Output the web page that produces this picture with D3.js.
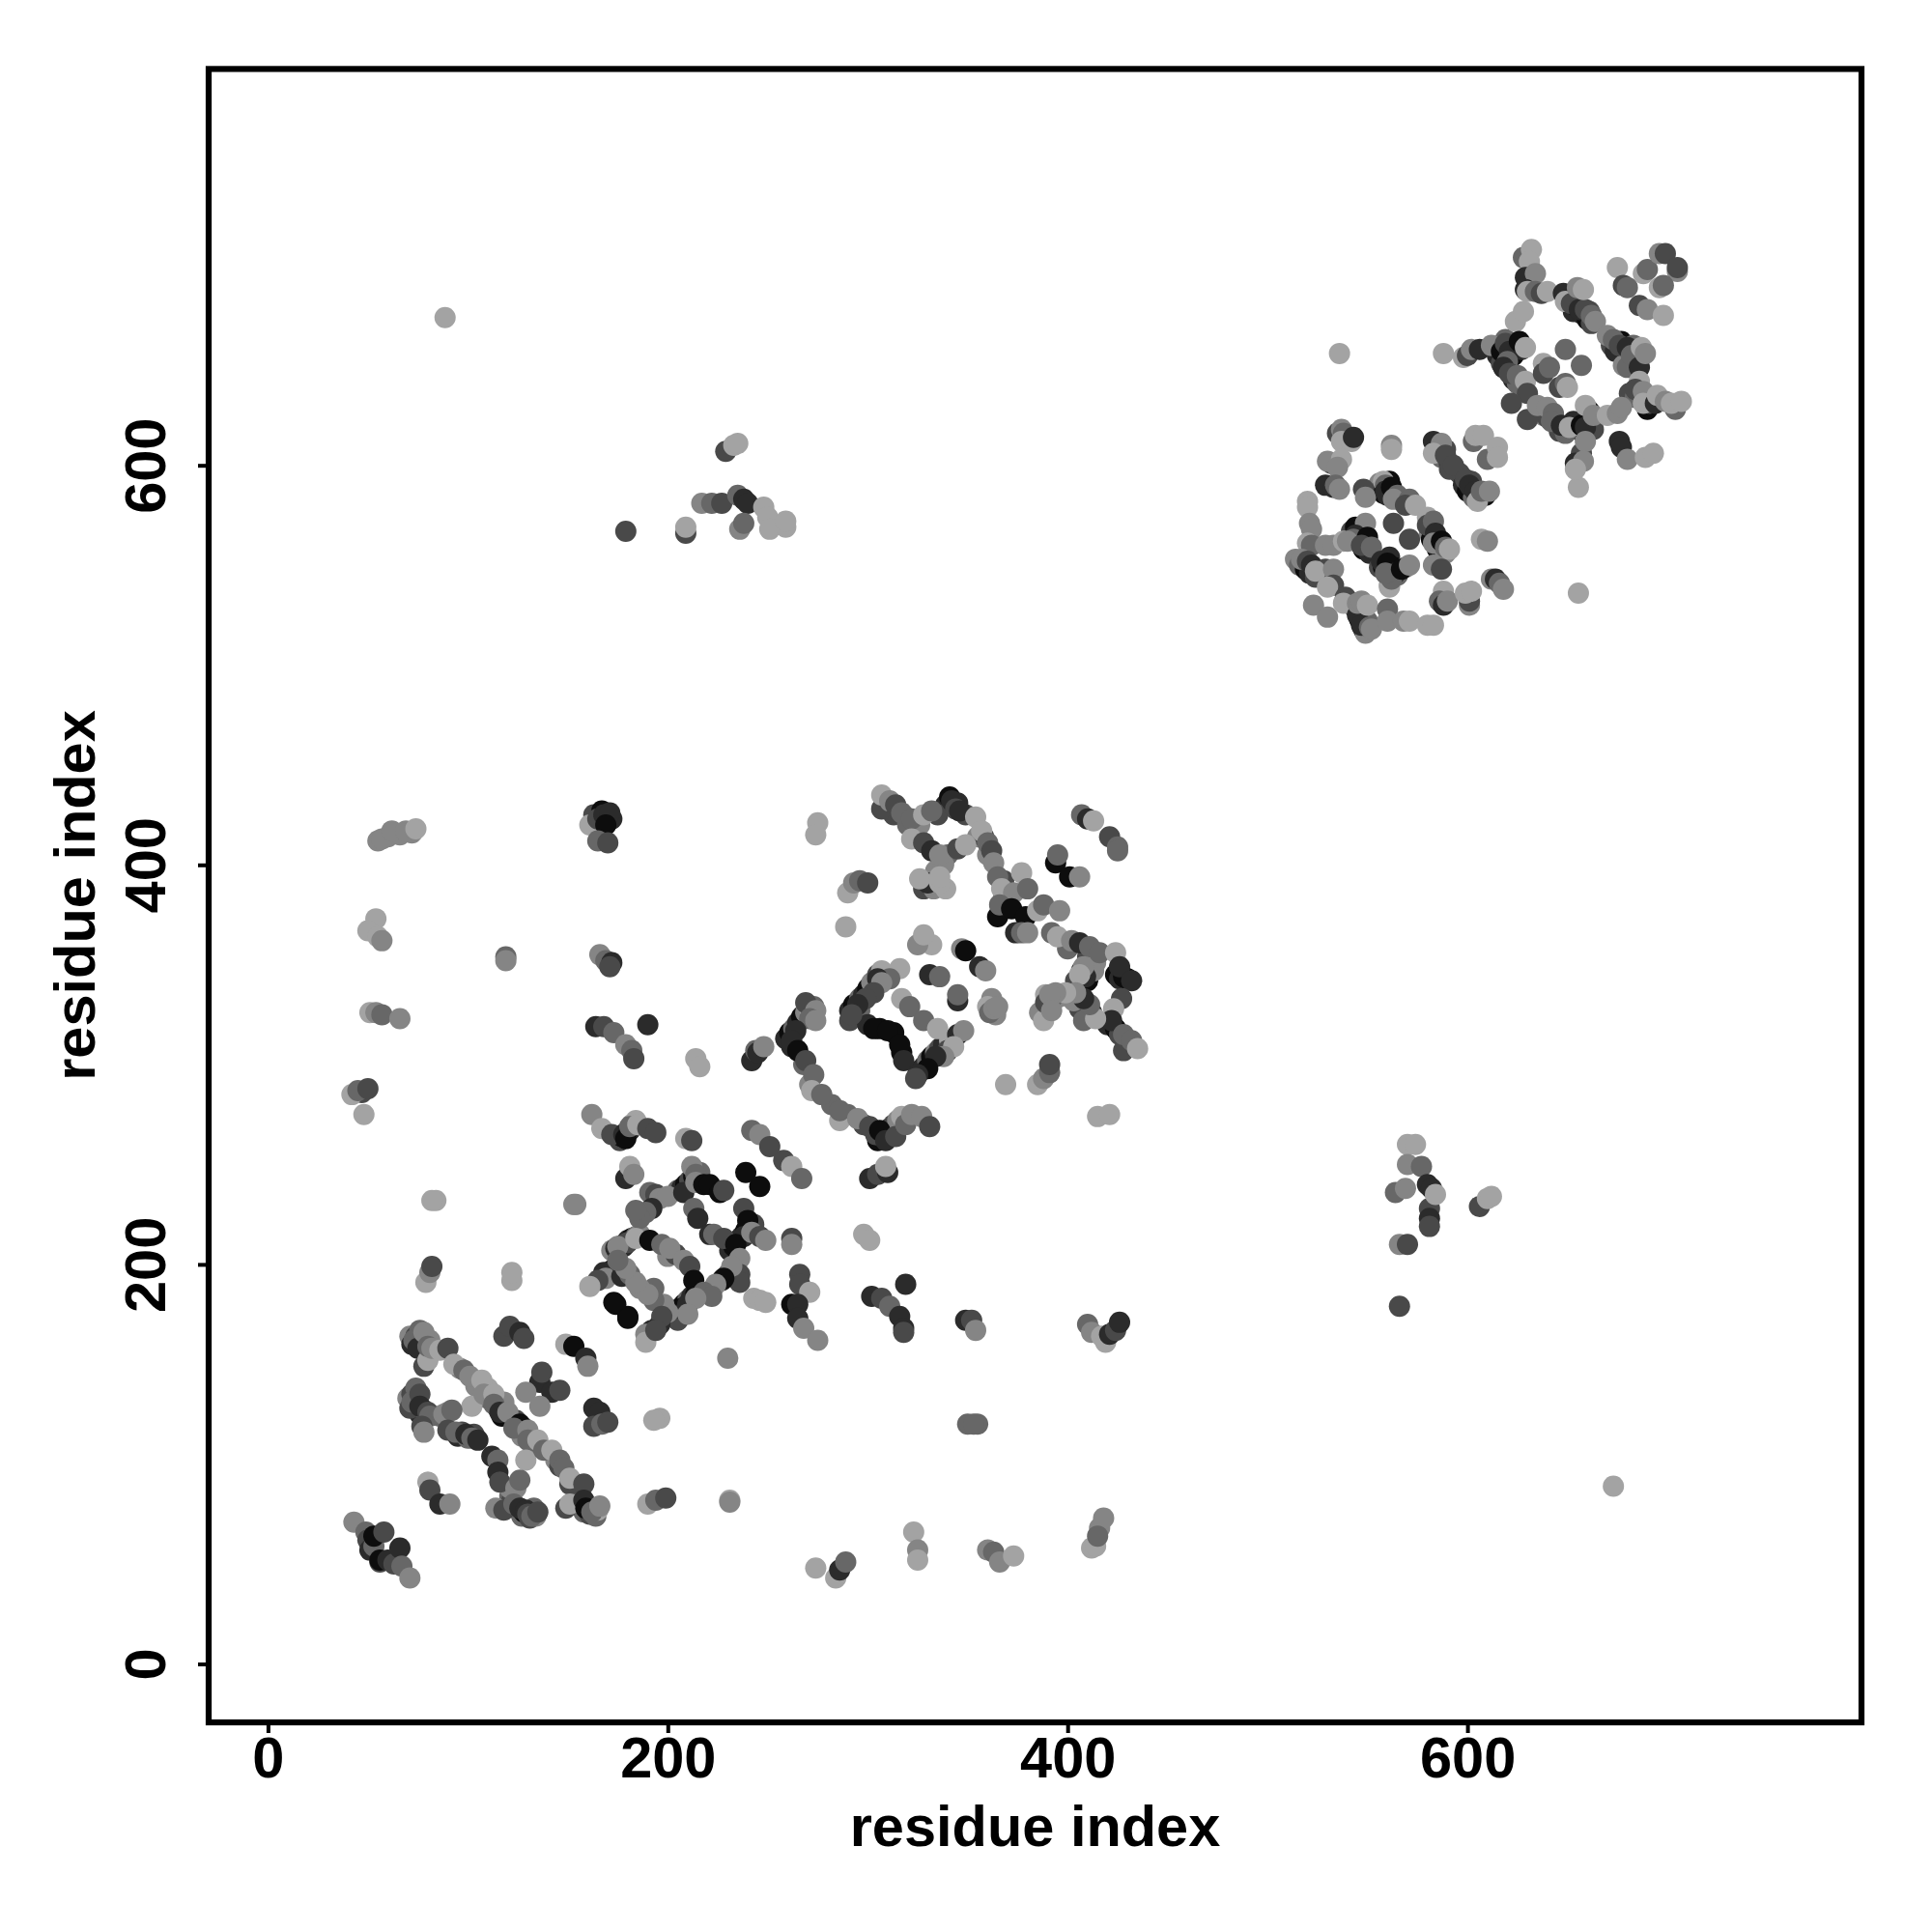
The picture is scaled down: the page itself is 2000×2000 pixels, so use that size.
<!DOCTYPE html>
<html><head><meta charset="utf-8">
<script src="https://cdn.jsdelivr.net/npm/d3@7/dist/d3.min.js"></script>
<style>html,body{margin:0;padding:0;background:#fff}svg{display:block}text{font-family:"Liberation Sans",Arial,sans-serif;font-weight:700;fill:#000}</style>
</head><body><svg id="chart" width="2000" height="2000"></svg>
<script>
// each contact: [residue x, residue y, strength 0 (weak) .. 5 (strong)]
const tickLabels = [0,200,400,600];
const underRing = [[172,207,1],[174,208,4],[176,209,5],[178,210,2],[180,212,4],[182,213,5],[184,214,2],[186,215,1],[206,178,4],[208,180,5],[210,182,2],[212,184,4],[214,185,5],[216,186,1],[207,176,3],[231,207,4],[233,209,5],[235,212,2],[237,214,4],[239,217,5],[241,219,1],[243,220,3],[205,237,2],[207,238,4],[209,240,5],[211,242,3],[213,244,5],[216,246,2],[176,262,3],[177,264,5],[179,266,2],[181,267,4],[182,270,1],[184,272,0]];
const underLoop = [[259,313,4],[261,316,5],[263,318,2],[265,321,4],[267,324,5],[269,326,1],[271,328,0],[273,329,2],[262,309,4],[305,262,5],[307,264,4],[309,266,2],[311,268,5],[313,270,3],[315,272,1],[317,274,0],[304,265,3],[326,297,5],[328,299,4],[330,302,2],[332,304,5],[334,306,1],[336,308,3],[338,310,4],[341,312,0],[340,307,3],[291,327,4],[293,330,5],[296,333,2],[298,335,4],[300,338,5],[302,341,1],[305,345,3],[307,347,0],[291,322,3],[296,327,2],[306,318,5],[313,316,5],[300,320,4],[317,306,5]];
const underSheet = [[312,427,2],[319,424,1],[324,421,3],[339,430,4],[341,434,5],[345,431,4],[349,425,3],[355,414,1],[358,414,3],[368,384,1],[420,320,4],[424,318,5],[426,315,3],[430,311,4],[433,309,1],[389,335,0],[390,331,2],[392,330,3],[396,334,1],[424,345,5],[426,343,4],[430,343,5],[404,342,3],[407,347,4],[410,342,5],[413,347,1],[360,405,1],[368,392,3]];
const underHelix = [[155,85,2],[156,80,4],[158,76,2],[160,79,5],[161,75,3],[163,78,1],[164,74,2],[165,77,0],[121,84,2],[122,82,3],[124,78,4],[127,74,2],[128,76,5],[131,73,3],[133,78,2],[134,74,1],[121,88,1],[71,164,1],[72,160,4],[74,164,3],[76,161,5],[79,157,1],[78,163,3],[81,162,1],[76,167,2],[70,133,1],[72,135,3],[74,130,5],[76,125,4],[78,127,2],[71,128,3],[74,138,2],[86,124,2],[90,126,1],[95,114,4],[97,116,3],[100,113,2],[103,115,3],[110,133,2],[115,128,4],[117,124,5],[124,122,3],[128,118,4],[127,114,1],[133,109,2],[144,102,1],[146,99,3],[163,425,3],[166,420,4],[167,427,5],[172,423,4]];
const underDomain = [[556,591,1],[557,588,3],[558,586,5],[560,585,4],[561,592,5],[563,586,2],[583,612,4],[585,606,5],[587,604,2],[589,608,3],[591,601,4],[591,598,3],[596,596,3],[598,590,4],[600,587,5],[602,592,3],[606,584,4],[603,584,2],[542,567,3],[544,569,5],[546,561,4],[548,558,5],[549,561,1],[551,556,4],[556,549,3],[558,549,5],[561,554,4],[563,549,5],[565,545,2],[561,540,1],[562,547,5],[581,566,1],[582,563,5],[585,558,5],[587,558,4],[589,556,1],[514,553,1],[516,550,2],[519,548,5],[521,546,4],[524,544,3],[544,528,3],[546,523,5],[548,518,5],[550,522,2],[549,516,1],[615,655,4],[618,658,5],[620,654,5],[622,660,4],[623,655,5],[627,658,4],[619,663,2],[651,684,2],[653,677,4],[654,680,5],[657,676,4],[660,673,5],[662,671,3],[661,677,3],[672,660,3],[674,657,4],[677,662,5],[679,656,4],[681,654,3],[678,650,1],[683,660,2],[653,622,4],[655,618,5],[658,616,4],[660,622,5],[663,618,3],[617,651,3],[620,648,2],[623,643,4],[625,641,2],[638,625,1],[640,624,3],[644,621,5],[646,617,3],[649,616,2],[681,636,3],[684,634,2],[690,628,5],[691,631,3]];
const underExtra = [[310,428,2],[313,425,3],[320,420,2],[326,420,1],[335,425,3],[328,388,3],[333,388,1],[339,388,0],[334,397,1],[340,405,2],[338,400,1],[362,333,1],[360,329,0],[364,325,1],[406,328,3],[412,326,4],[403,332,1],[408,322,2],[386,326,1],[388,322,0],[392,333,2],[400,358,2],[410,354,3],[414,351,1],[96,148,1],[104,139,1],[110,138,0],[118,131,1],[350,120,2],[355,120,2],[84,232,0],[55,412,1],[60,414,1],[66,415,1],[72,416,1],[47,286,3],[268,300,2],[271,290,1],[282,280,2],[290,275,2],[298,270,3],[200,204,1],[204,205,3],[193,188,2],[186,188,1],[222,187,3],[230,195,2],[205,172,3]];
const nTerminal = [[43,71,1],[49,66,2],[50,62,3],[51,57,4],[53,59,2],[53,64,5],[58,66,3],[56,51,3],[56,52,5],[60,52,4],[63,50,3],[66,58,4],[67,49,2],[71,43,1]];
const helixStripeA = [[73,162,2],[75,158,4],[78,149,3],[80,152,0],[78,166,1],[80,159,2],[82,158,1],[86,157,0],[90,158,3],[93,150,0],[98,147,2],[101,144,1],[107,142,0],[102,129,0],[108,135,1],[113,135,0],[113,130,2],[116,126,4],[120,126,1],[126,120,5],[123,118,2],[130,117,1],[130,112,2],[135,112,0],[129,102,0],[138,107,2],[142,107,0],[146,102,2],[148,98,2],[151,90,3],[151,93,0],[158,90,3],[149,78,3],[151,80,0],[158,82,4],[159,78,5],[162,76,2],[166,79,1]];
const helixStripeB = [[72,131,2],[76,135,3],[76,129,4],[80,126,3],[81,124,2],[77,119,3],[78,116,1],[88,125,1],[92,127,2],[90,117,3],[94,116,2],[99,115,4],[102,113,2],[105,112,4],[112,104,4],[115,102,2],[115,96,4],[116,91,3],[124,88,1],[126,92,2],[114,78,1],[118,77,3],[123,80,2],[126,78,4],[129,77,4],[130,75,3],[132,74,2],[135,76,3]];
const helixSide = [[80,91,0],[81,87,3],[86,80,4],[91,80,1],[118,164,3],[121,169,3],[126,166,4],[128,163,3],[149,160,0],[153,159,5],[159,153,4],[160,149,1],[136,141,4],[137,146,3],[129,136,1],[142,136,4],[146,137,3],[136,129,1],[163,128,4],[166,126,4],[163,119,3],[167,120,2],[170,121,3],[173,181,5],[180,174,5]];
const ringTopLeft = [[162,275,1],[167,268,0],[172,265,3],[178,265,4],[179,263,5],[181,269,2],[185,270,0],[190,268,3],[194,266,3],[209,263,0],[212,262,3],[242,267,2],[246,265,1],[251,259,3],[258,252,3],[262,249,0],[267,243,2],[239,246,5],[246,239,5],[179,243,4],[181,249,0],[183,245,1],[154,230,1]];
const ringBody = [[191,236,2],[194,235,3],[196,233,1],[200,234,1],[192,228,4],[189,226,2],[186,223,2],[184,227,2],[178,209,4],[180,211,3],[175,209,1],[184,213,0],[191,212,5],[197,210,2],[201,208,1],[208,202,1],[211,199,3],[213,192,5],[212,249,1],[214,245,2],[208,236,4],[214,241,1],[218,240,5],[221,240,5],[226,236,5],[228,237,3],[213,228,2],[215,223,4],[221,215,4],[223,215,2],[228,213,3],[238,228,3],[240,222,5],[238,214,4],[234,210,5],[242,216,1],[246,214,3],[249,212,1],[236,203,1],[236,195,3],[236,191,3],[232,199,1],[227,192,4],[228,193,5],[224,190,1],[218,186,2],[222,184,2],[207,178,5],[210,180,4],[209,177,4],[214,183,1],[210,175,1],[200,176,1],[198,180,1],[193,182,2],[190,185,1],[196,170,4],[197,174,3],[192,167,4],[189,165,1],[189,161,0],[194,167,3],[172,197,5],[168,196,4],[169,193,1],[165,192,3],[161,189,0],[177,194,4],[181,195,2],[184,191,1],[179,198,1],[175,202,2],[174,180,5],[180,173,5]];
const ringEast = [[262,213,3],[262,210,1],[243,183,0],[246,182,0],[249,181,0],[266,195,3],[266,190,3],[271,186,0],[262,180,5],[265,180,4],[265,173,4],[268,168,1],[275,162,1],[230,153,1],[298,215,0],[301,212,0]];
const farUpperLeft = [[88.6,674,0],[229,607,3],[233,610,0],[235,611,0],[179,567,3],[209,566,3],[209,569,0],[217,581,1],[222,581,2],[227,581,3],[235,585,2],[238,583,4],[240,581,4],[236,568,1],[238,571,2],[248,579,0],[250,574,0],[251,568,0],[259,569,0],[259,572,0]];
const farLeft = [[57,413,1],[62,417,1],[69,417,1],[74,418,0],[54,373,0],[50,367,0],[55,364,0],[57,362,1],[51,326,0],[54,326,1],[57,325,2],[66,323,1],[42,285,0],[45,287,2],[50,288,3],[48,275,0],[82,232,0],[119,354,2],[119,352,1],[79,191,0],[81,196,1],[82,199,3],[122,192,0],[122,196,0],[153,230,1]];
const midLeft = [[161,420,0],[165,423,3],[168,425,4],[171,426,4],[169,420,5],[165,412,2],[170,411,3],[166,355,1],[169,352,2],[172,351,4],[171,349,3],[164,319,4],[168,319,3],[173,316,2],[179,310,1],[182,307,2],[183,303,3],[190,320,4],[214,303,0],[216,299,0]];
const lowerMiddle = [[319,190,4],[302,184,4],[307,183,3],[311,179,2],[316,174,4],[318,168,4],[318,166,3],[349,172,4],[352,172,3],[354,167,1],[353,120,2],[410,170,2],[412,166,1],[417,164,0],[419,161,0],[421,165,4],[424,167,3],[426,171,4],[231,82,0],[231,81,1],[190,80,0],[194,82,2],[199,83,3],[196,123,0],[193,122,0],[323,66,0],[325,57,1],[325,52,0],[274,48,0],[284,43,0],[286,47,4],[289,51,2],[360,57,1],[363,56,2],[366,51,1],[373,54,0],[412,58,0],[414,59,0],[416,68,1],[418,73,1],[415,64,2]];
const sheetTop = [[307,428,3],[307,435,0],[311,432,1],[314,430,3],[317,426,2],[322,423,2],[328,425,0],[332,427,2],[342,432,4],[344,428,3],[346,427,4],[354,424,0],[357,417,0],[360,411,2],[362,407,3],[363,401,1],[365,394,2],[367,388,0],[373,386,1],[377,396,0],[380,388,2],[322,413,0],[328,411,3],[332,407,4],[336,405,1],[345,408,3],[349,410,0],[330,391,4],[326,393,0],[336,391,0],[336,394,0]];
const sheetCross = [[365,374,5],[366,380,2],[372,378,5],[379,374,5],[374,366,4],[377,366,2],[380,366,1],[385,377,0],[388,380,2],[396,377,1],[392,366,2],[395,364,0],[402,362,1],[406,361,4],[411,359,2],[416,356,2],[424,356,0],[409,344,4],[408,349,1],[406,345,0],[428,344,5],[426,349,4],[432,342,4],[427,333,3],[423,328,0],[422,322,4],[428,307,3],[428,315,2],[432,312,2],[435,308,0],[414,323,0],[411,330,2],[408,333,4],[404,336,1],[399,336,0],[394,336,1],[389,331,3],[391,335,1],[392,327,1],[407,425,2],[410,423,4],[413,422,0],[421,414,3],[425,409,2],[425,407,2],[394,401,5],[395,405,2],[401,394,5],[406,394,1],[275,421,0],[274,415,0],[290,386,0],[293,391,1],[296,392,2],[300,391,3],[289,369,0],[332,360,0],[325,360,1],[328,365,0],[347,358,1],[349,357,5],[356,349,4],[359,347,1],[331,345,4],[336,344,2],[345,332,4],[345,335,2],[361,326,2],[363,328,1],[365,329,1]];
const squareLoop = [[316,348,0],[311,343,2],[305,343,4],[307,341,1],[303,336,3],[299,333,3],[295,330,4],[292,325,3],[303,318,5],[310,317,5],[316,310,5],[318,302,4],[317,333,0],[321,329,2],[328,322,2],[335,318,0],[345,315,4],[348,317,1],[343,309,0],[338,304,1],[334,304,4],[330,298,5],[325,295,4],[324,293,3],[269,331,3],[274,327,1],[271,323,2],[274,322,1],[264,317,4],[262,312,4],[265,307,5],[269,302,3],[273,295,2],[272,287,0],[277,285,2],[286,272,0],[286,277,2],[295,273,1],[301,269,3],[306,267,5],[309,262,4],[314,264,3],[319,270,2],[322,275,1],[327,274,1],[331,269,3],[242,302,4],[244,307,2],[245,306,4],[248,309,1],[301,243,4],[305,245,3],[310,246,4],[309,249,0],[369,290,0],[385,290,0],[388,293,1],[391,296,2],[391,300,3],[415,274,0],[421,275,0]];
const farLowerRight = [[673,89,0],[566,179,3],[570,260,0],[574,260,0],[570,250,1],[577,249,2],[564,236,2],[569,238,1],[580,240,4],[582,238,4],[581,228,3],[581,223,4],[581,219,3],[584,235,0],[566,210,1],[570,210,3],[606,229,3],[610,233,0],[612,234,0]];
const domainLower = [[535,616,3],[537,618,1],[538,616,2],[537,612,0],[542,612,0],[543,614,4],[532,601,3],[530,602,1],[537,603,0],[535,599,1],[529,590,4],[533,589,4],[534,590,2],[536,588,1],[520,582,0],[520,579,0],[521,571,1],[522,568,1],[520,561,0],[522,560,2],[529,560,1],[533,560,1],[538,562,0],[517,553,1],[520,552,3],[522,550,4],[529,548,3],[524,547,0],[533,548,1],[533,540,3],[530,539,0],[539,534,3],[538,531,0],[523,530,1],[530,524,1],[545,525,4],[547,520,4],[545,531,1],[547,532,1],[550,530,0],[551,519,2],[552,518,1],[560,528,2],[560,522,1],[561,539,0],[568,522,1],[571,522,0],[580,520,0],[583,520,0],[562,610,1],[562,608,0],[548,588,3],[549,584,1],[558,592,0],[559,590,2],[559,587,4],[562,589,5],[565,585,2],[563,583,1],[571,583,2],[569,580,3],[574,580,0],[563,571,3],[571,563,3],[549,571,1],[544,565,4],[543,563,2],[540,562,1],[550,564,5],[547,560,3],[552,559,2],[557,552,4],[560,551,5],[564,546,4],[562,543,2],[559,546,2],[569,549,1],[567,548,5],[571,550,1],[580,574,0],[580,570,3],[583,572,2],[584,566,4],[583,561,1],[587,562,5],[589,559,2],[591,558,0],[583,550,1],[587,548,3],[588,537,0],[586,532,2],[588,530,4],[590,532,1],[601,530,1],[601,532,3],[599,536,0],[602,537,0],[612,543,1],[614,543,4],[616,541,2],[618,538,1],[607,563,0],[610,562,1],[603,612,2],[604,615,0],[608,615,0],[610,603,2],[615,609,0],[615,604,0],[585,610,4],[587,611,1],[583,606,0],[589,605,3],[593,600,3],[599,593,3],[601,590,4],[604,587,4],[609,585,5],[605,582,0],[607,587,2],[611,587,1]];
const domainUpper = [[536,656,0],[588,656,0],[598,654,0],[600,655,3],[655.5,536,0],[655.5,589,0],[628,704,2],[632,708,0],[631,702,0],[629,694,4],[634,696,1],[629,688,4],[630,687,0],[634,687,2],[637,686,3],[640,687,0],[648,686,4],[649,682,0],[652,681,3],[656,678,4],[659,678,3],[655,689,1],[658,688,0],[662,675,2],[664,672,1],[675,699,0],[678,690,3],[680,689,2],[686,680,3],[690,678,1],[698,675,0],[688,696,0],[690,698,2],[696,706,1],[699,706,3],[705,697,1],[705,699,3],[696,689,0],[698,690,2],[624,672,0],[628,677,0],[602,658,1],[606,658,4],[612,660,1],[617,657,5],[619,661,3],[621,657,4],[626,662,5],[629,659,0],[620,652,2],[618,649,4],[621,646,3],[625,645,2],[629,642,0],[630,636,3],[622,631,3],[630,623,3],[638,651,0],[638,646,3],[641,649,2],[649,658,2],[657,650,2],[646,639,3],[649,641,2],[650,639,0],[635,630,1],[640,629,1],[643,626,2],[642,622,2],[647,620,4],[651,619,0],[657,620,5],[661,627,5],[659,619,4],[659,630,0],[663,625,1],[670,625,0],[675,626,1],[677,629,1],[657,606,3],[659,612,1],[654,601,4],[658,602,1],[654,598,0],[676,612,4],[677,609,4],[680,603,1],[689,604,0],[693,606,0],[670,665,1],[673,663,2],[676,660,3],[680,659,4],[680,649,2],[682,655,2],[686,649,4],[687,659,0],[689,656,1],[686,642,0],[684,638,3],[688,637,1],[688,631,0],[694,631,4],[695,635,0],[699,632,1],[704,628,2],[702,631,0],[707,632,0]];

const contacts = [underRing,underLoop,underSheet,underHelix,underDomain,underExtra,nTerminal,helixStripeA,helixStripeB,helixSide,ringTopLeft,ringBody,ringEast,farUpperLeft,farLeft,midLeft,lowerMiddle,sheetTop,sheetCross,squareLoop,farLowerRight,domainLower,domainUpper];

const x = d3.scaleLinear().domain([-29.66,797.1]).range([216,1927]);
const y = d3.scaleLinear().domain([-29.26,798.4]).range([1783,71.4]);
const grey = d3.scaleLinear().domain([0,5]).range(["#a3a3a3","#0d0d0d"]);

const svg = d3.select("#chart");
svg.append("g").selectAll("g").data(contacts).join("g")
  .selectAll("circle").data(d=>d).join("circle")
  .attr("cx",d=>x(d[0])).attr("cy",d=>y(d[1])).attr("r",11).attr("fill",d=>grey(d[2]));

svg.append("rect").attr("x",216).attr("y",71.4).attr("width",1711).attr("height",1711.6)
  .attr("fill","none").attr("stroke","#000").attr("stroke-width",6.2);

const gx = svg.append("g").attr("transform","translate(0,1783)")
  .call(d3.axisBottom(x).tickValues(tickLabels).tickSize(11).tickSizeOuter(0).tickFormat(d3.format("d")));
const gy = svg.append("g").attr("transform","translate(216,0)")
  .call(d3.axisLeft(y).tickValues(tickLabels).tickSize(11).tickSizeOuter(0).tickFormat(d3.format("d")));
[gx,gy].forEach(g=>{g.select(".domain").remove();g.selectAll("line").attr("stroke","#000").attr("stroke-width",4);});
gx.selectAll("text").attr("y",null).attr("dy",null).attr("y",57).attr("text-anchor","middle").style("font-size","59.5px");
gy.selectAll("text").attr("x",null).attr("dy",null).attr("text-anchor","middle").style("font-size","59.5px")
  .attr("transform","translate(-45,0) rotate(-90)").attr("y",0).attr("x",0);
svg.append("text").attr("x",1071.5).attr("y",1911).attr("text-anchor","middle").style("font-size","59.5px").text("residue index");
svg.append("text").attr("transform","translate(98,927) rotate(-90)").attr("text-anchor","middle").style("font-size","59.5px").text("residue index");
</script></body></html>
